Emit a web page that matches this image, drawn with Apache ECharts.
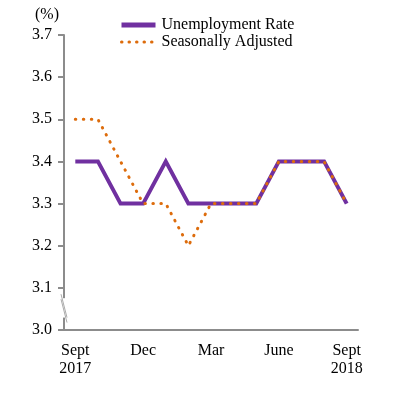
<!DOCTYPE html>
<html>
<head>
<meta charset="utf-8">
<script src="https://cdn.jsdelivr.net/npm/echarts@6/dist/echarts.min.js"></script>
<style>
  html, body { margin: 0; padding: 0; background: #fff; }
  #chart { width: 397px; height: 397px; }
</style>
</head>
<body>
<div id="chart"></div>
<script>
const months = ['Sept\n2017', 'Oct', 'Nov', 'Dec', 'Jan', 'Feb', 'Mar', 'Apr', 'May', 'June', 'Jul', 'Aug', 'Sept\n2018']
const shownLabels = ['Sept\n2017', 'Dec', 'Mar', 'June', 'Sept\n2018']
const unemploymentRate = [3.4, 3.4, 3.3, 3.3, 3.4, 3.3, 3.3, 3.3, 3.3, 3.4, 3.4, 3.4, 3.3]
const seasonallyAdjusted = [3.5, 3.5, 3.4, 3.3, 3.3, 3.2, 3.3, 3.3, 3.3, 3.4, 3.4, 3.4, 3.3]

const font = 'Liberation Serif'
const axisGray = '#8c8c8c'
const purple = '#7030a0'
const orange = '#dd6c0c'

const myChart = echarts.init(document.getElementById('chart'))
myChart.setOption({
  animation: false,
  textStyle: { fontFamily: font, color: '#000' },
  grid: { left: 64, right: 39, top: 35, bottom: 67 },
  legend: {
    orient: 'vertical',
    left: 114,
    top: 12,
    itemWidth: 34,
    itemHeight: 12,
    itemGap: 1,
    itemStyle: { opacity: 0 },
    textStyle: { fontFamily: font, fontSize: 16, color: '#000', padding: [0, 0, 0, 1] },
    data: [
      { name: 'Unemployment Rate', lineStyle: { width: 5, color: purple } },
      { name: 'Seasonally Adjusted', lineStyle: { width: 3, color: orange, type: [0.5, 7], cap: 'round' } },
    ],
  },
  xAxis: {
    type: 'category',
    data: months,
    boundaryGap: true,
    axisLine: { lineStyle: { color: axisGray, width: 2 } },
    axisTick: { inside: true, length: 5, lineStyle: { color: axisGray, width: 2 } },
    axisLabel: {
      interval: 0,
      margin: 12,
      fontFamily: font,
      fontSize: 16,
      color: '#000',
      lineHeight: 18,
      formatter: (v) => (shownLabels.includes(v) ? v : ''),
    },
    splitLine: { show: false },
  },
  yAxis: {
    type: 'value',
    min: 3.0,
    max: 3.7,
    interval: 0.1,
    name: '(%)',
    nameLocation: 'end',
    nameGap: 12,
    nameTextStyle: { fontFamily: font, fontSize: 16, color: '#000', align: 'right', padding: [0, 5, 0, 0] },
    axisLine: { show: true, lineStyle: { color: axisGray, width: 2 } },
    axisTick: { show: true, length: 6, lineStyle: { color: axisGray, width: 2 } },
    axisLabel: {
      margin: 12,
      fontFamily: font,
      fontSize: 16,
      color: '#000',
      formatter: (v) => v.toFixed(1),
    },
    splitLine: { show: false },
  },
  series: [
    {
      name: 'Unemployment Rate',
      type: 'line',
      data: unemploymentRate,
      symbol: 'none',
      lineStyle: { color: purple, width: 4, join: 'miter' },
      itemStyle: { color: purple },
    },
    {
      name: 'Seasonally Adjusted',
      type: 'line',
      data: seasonallyAdjusted,
      symbol: 'none',
      lineStyle: { color: orange, width: 3, type: [0.5, 7.5], cap: 'round' },
      itemStyle: { color: orange },
    },
  ],
})

// axis break marks on the y axis between 3.0 and 3.1
const yTop = myChart.convertToPixel({ yAxisIndex: 0 }, 3.085)
const yBot = myChart.convertToPixel({ yAxisIndex: 0 }, 3.02)
const axisX = myChart.convertToPixel({ xAxisIndex: 0 }, 0) - 11.3
myChart.setOption({
  graphic: [
    { type: 'rect', shape: { x: axisX - 2, y: yTop + 4, width: 4, height: yBot - yTop - 8 }, style: { fill: '#fff' }, z: 100 },
    { type: 'line', shape: { x1: axisX - 3, y1: yTop, x2: axisX + 3, y2: yBot - 4 }, style: { stroke: '#aaa', lineWidth: 1 }, z: 101 },
    { type: 'line', shape: { x1: axisX - 3, y1: yTop + 5, x2: axisX + 3, y2: yBot + 1 }, style: { stroke: '#aaa', lineWidth: 1 }, z: 101 },
  ],
})
</script>
</body>
</html>
